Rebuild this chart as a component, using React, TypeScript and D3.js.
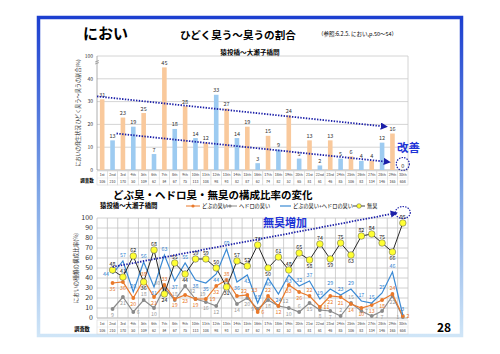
import React from "react";
import * as d3 from "d3";

const surveys = [
  "1st", "2nd", "3rd", "4th", "5th", "6th", "7th", "8th", "9th", "10th",
  "11th", "12th", "13th", "14th", "15th", "16th", "17th", "18th", "19th", "20th",
  "21st", "22nd", "23rd", "24th", "25th", "26th", "27th", "28th", "29th", "30th",
];
const surveyCounts = [
  106, 210, 170, 50, 109, 62, 84, 67, 75, 113, 108, 98, 93, 82, 87,
  62, 74, 82, 52, 65, 81, 61, 46, 85, 106, 83, 134, 146, 165, 658,
];
// ひどく臭う～臭うの割合 (%)
const badSmellRatio = [
  31, 13, 23, 19, 25, 7, 45, 18, 28, 14, 12, 33, 27, 14, 19,
  3, 15, 9, 24, 5, 13, 2, 13, 5, 6, 4, 4, 12, 16, 0,
];
// 構成比率 (%) – 1st survey has no data
const dobuSmell = [
  null, 35, 36, 20, 38, 21, 33, 19, 23, 19, 19, 32, 38, 22, 23,
  6, 22, 12, 33, 26, 22, 11, 22, 21, 14, 10, 13, 18, 24, 2,
];
const hedoroSmell = [
  null, 9, 21, 6, 18, 10, 30, 18, 32, 19, 16, 12, 31, 14, 20,
  9, 18, 12, 10, 6, 15, 8, 7, 2, 15, 7, 2, 7, 22, 1,
];
const dobuPlusHedoro = [
  null, 44, 57, 26, 56, 31, 63, 37, 55, 38, 35, 44, 69, 36, 43,
  15, 40, 24, 43, 32, 37, 19, 29, 23, 29, 17, 15, 25, 46, 3,
];
const noSmell = [
  null, 48, 41, 62, 36, 68, 24, 55, 44, 59, 59, 50, 31, 57, 52,
  73, 50, 61, 48, 65, 58, 74, 59, 75, 63, 82, 84, 75, 66, 95,
];
const topTicks = [0, 10, 20, 30, 40, 50];
const topTickLabels = ["0", "10", "20", "30", "40", "100"];
const bottomTicks = [0, 10, 20, 30, 40, 50, 60, 70, 80, 90, 100];
// hand-drawn trend arrows (survey, value)
const trendUpper = [["1st", 32.3], ["29th", 19]];
const trendLower = [["2nd", 16], ["29th", 3.5]];
const trendNoSmell = [["2nd", 51], ["29th", 105]];

const JP = "'Noto Sans CJK JP', 'Noto Sans', sans-serif";
const NAVY = "#1b1fa8";
const TEXT_BLUE = "#1f35d6";

function labelAbove(arr, i) {
  const v = arr[i];
  const prev = arr[i - 1] ?? v;
  const next = arr[i + 1] ?? v;
  return v >= (prev + next) / 2;
}

export default function App() {
  const W = 500, H = 354;

  const x = d3.scaleBand().domain(surveys).range([97, 408]);
  const cx = (s) => x(s) + x.bandwidth() / 2;

  const yTop = d3.scaleLinear().domain([0, 50]).range([170, 56]);
  const yBot = d3.scaleLinear().domain([0, 100]).range([318, 218]);

  const lineGen = d3
    .line()
    .defined((d) => d != null)
    .x((d, i) => cx(surveys[i]))
    .y((d) => yBot(d));

  const barW = 4.6;

  const series = [
    { data: noSmell, color: "#111", marker: "yellow", labelColor: "#111" },
    { data: dobuPlusHedoro, color: "#3b8ad4", marker: null, labelColor: "#2f7fcf" },
    { data: dobuSmell, color: "#e9792a", marker: "dot", labelColor: "#e9792a" },
    { data: hedoroSmell, color: "#8a8a8a", marker: "dot", labelColor: "#999" },
  ];

  // place point labels avoiding each other
  const points = [];
  series.forEach((sr) =>
    sr.data.forEach((v, i) => {
      if (v != null) points.push({ x: cx(surveys[i]), y: yBot(v) });
    })
  );
  const placed = [];
  const labels = [];
  const overlaps = (a, b) =>
    a.x0 < b.x1 && a.x1 > b.x0 && a.y0 < b.y1 && a.y1 > b.y0;
  series.forEach((sr, k) => {
    sr.data.forEach((v, i) => {
      if (v == null) return;
      const px = cx(surveys[i]);
      const py = yBot(v);
      const w = String(v).length * 3.1 + 0.4;
      const h = 4.4;
      const above = labelAbove(sr.data, i);
      const up = [px, py - 4];
      const down = [px, py + 7.8];
      const cands = [
        above ? up : down,
        above ? down : up,
        [px + 3.3 + w / 2, py + 2],
        [px - 3.3 - w / 2, py + 2],
        [px + 3.8 + w / 2, py - 3.2],
        [px - 3.8 - w / 2, py - 3.2],
        [px + 3.8 + w / 2, py + 6.8],
        [px - 3.8 - w / 2, py + 6.8],
        [px, py - 8.5],
        [px, py + 12],
      ];
      let best = cands[0];
      let bestScore = Infinity;
      cands.forEach((c, ci) => {
        const box = { x0: c[0] - w / 2, x1: c[0] + w / 2, y0: c[1] - h, y1: c[1] };
        let score = ci * 0.4;
        placed.forEach((b) => {
          if (overlaps(box, b)) score += 12;
        });
        points.forEach((p) => {
          if (p.x === px && p.y === py) return;
          if (p.x > box.x0 - 1.5 && p.x < box.x1 + 1.5 && p.y > box.y0 - 1.5 && p.y < box.y1 + 1.5) score += 3;
        });
        if (box.y1 > 319 || box.y0 < 214) score += 20;
        if (score < bestScore) {
          bestScore = score;
          best = c;
        }
      });
      placed.push({ x0: best[0] - w / 2, x1: best[0] + w / 2, y0: best[1] - h, y1: best[1] });
      labels.push({ key: `${k}-${i}`, x: best[0], y: best[1], text: v, color: sr.labelColor });
    });
  });

  const tableRows = (yy, fs) =>
    surveys.map((s, i) => (
      <g key={s}>
        <rect x={x(s)} y={yy} width={x.bandwidth()} height={14} fill="#fff" stroke="#cfcfcf" strokeWidth={0.5} />
        <line x1={x(s)} x2={x(s) + x.bandwidth()} y1={yy + 7} y2={yy + 7} stroke="#e0e0e0" strokeWidth={0.4} />
        <text x={cx(s)} y={yy + 5} fontSize={fs} textAnchor="middle" fill="#333">{s}</text>
        <text x={cx(s)} y={yy + 12} fontSize={fs} textAnchor="middle" fill="#333">{surveyCounts[i]}</text>
      </g>
    ));

  return (
    <svg width={W} height={H} style={{ display: "block", position: "absolute", left: 0, top: 0 }} fontFamily={JP}>
      <defs>
        <linearGradient id="frame" x1="0" y1="0" x2="0" y2="1">
          <stop offset="0%" stopColor="#1c3fd0" />
          <stop offset="55%" stopColor="#7fa6e6" />
          <stop offset="100%" stopColor="#cfe5f7" />
        </linearGradient>
        <marker id="arrow" viewBox="0 0 10 10" refX="8" refY="5" markerWidth="4" markerHeight="4" orient="auto">
          <path d="M0,0 L10,5 L0,10 z" fill={NAVY} />
        </marker>
      </defs>
      <rect x={0} y={0} width={W} height={H} fill="#fff" />
      <rect x={38.5} y={17.5} width={423} height={318} fill="#fff" stroke="url(#frame)" strokeWidth={3.5} />

      {/* header */}
      <text x={83} y={39} fontSize={15} fontWeight="bold">におい</text>
      <text x={180} y={39} fontSize={10.6} fontWeight="bold">ひどく臭う～臭うの割合</text>
      <text x={318} y={36} fontSize={5.5}>（参照:6.2.5. におい,p.50～54）</text>
      <text x={250} y={55} fontSize={6.6} fontWeight="bold" textAnchor="middle">猿投橋～大瀬子橋間</text>

      {/* top chart */}
      <g>
        {topTicks.map((t, i) => (
          <g key={t}>
            <line x1={97} x2={408} y1={yTop(t)} y2={yTop(t)} stroke={t === 0 ? "#999" : "#c9c9c9"} strokeWidth={0.8} />
            <text x={93} y={yTop(t) + 1.8} fontSize={5} textAnchor="end" fill="#333">{topTickLabels[i]}</text>
          </g>
        ))}
        <line x1={97} x2={97} y1={56} y2={170} stroke="#999" strokeWidth={0.8} />
        <line x1={408} x2={408} y1={56} y2={170} stroke="#c9c9c9" strokeWidth={0.8} />
        <line x1={95} x2={99} y1={62} y2={60.5} stroke="#777" strokeWidth={0.6} />
        <line x1={95} x2={99} y1={64} y2={62.5} stroke="#777" strokeWidth={0.6} />
        <text transform="translate(80,113) rotate(-90)" fontSize={5.2} textAnchor="middle" fill="#333">
          においの発生状況 ひどく臭う～臭うの割合(%)
        </text>
        {badSmellRatio.map((v, i) => (
          <g key={i}>
            <rect
              x={cx(surveys[i]) - barW / 2}
              y={yTop(v)}
              width={barW}
              height={yTop(0) - yTop(v)}
              fill={i % 2 === 0 ? "#f9c99c" : "#9dcbf1"}
            />
            <text x={cx(surveys[i])} y={yTop(v) - 2.5} fontSize={5.5} textAnchor="middle" fill="#333">{v}</text>
          </g>
        ))}
        {[trendUpper, trendLower].map((tr, k) => (
          <line
            key={k}
            x1={k === 0 ? x(tr[0][0]) : cx(tr[0][0]) + 4}
            y1={yTop(tr[0][1])}
            x2={cx(tr[1][0]) - 6 + k * 3}
            y2={yTop(tr[1][1])}
            stroke={NAVY}
            strokeWidth={1.8}
            strokeDasharray="1.4 1.4"
            markerEnd="url(#arrow)"
          />
        ))}
        <circle cx={cx("30th")} cy={yTop(0) - 6} r={6.5} fill="none" stroke={NAVY} strokeWidth={1.2} strokeDasharray="1.4 1.2" />
        <text x={397} y={152} fontSize={11.5} fontWeight="bold" fill={TEXT_BLUE}>改善</text>
        {tableRows(171, 3.6)}
        <text x={87} y={182} fontSize={4.5} fontWeight="bold" textAnchor="middle">調査数</text>
      </g>

      {/* bottom chart */}
      <text x={113} y={199} fontSize={10.5} fontWeight="bold">どぶ臭・ヘドロ臭・無臭の構成比率の変化</text>
      <text x={100} y={208} fontSize={6.4} fontWeight="bold">猿投橋～大瀬子橋間</text>
      <g fontSize={5.2}>
        <line x1={186} x2={200} y1={206} y2={206} stroke="#e9792a" strokeWidth={1} />
        <circle cx={193} cy={206} r={1.6} fill="#e9792a" />
        <text x={202} y={208}>どぶの臭い</text>
        <line x1={223} x2={237} y1={206} y2={206} stroke="#8a8a8a" strokeWidth={1} />
        <circle cx={230} cy={206} r={1.6} fill="#8a8a8a" />
        <text x={239} y={208}>ヘドロの臭い</text>
        <line x1={280} x2={291} y1={206} y2={206} stroke="#3b8ad4" strokeWidth={1.2} />
        <text x={293} y={208}>どぶの臭い+ヘドロの臭い</text>
        <line x1={353} x2={365} y1={206} y2={206} stroke="#111" strokeWidth={0.8} />
        <circle cx={359} cy={206} r={2.3} fill="#ffff33" stroke="#555" strokeWidth={0.5} />
        <text x={367} y={208}>無臭</text>
      </g>
      <g>
        {bottomTicks.map((t) => (
          <g key={t}>
            <line x1={97} x2={408} y1={yBot(t)} y2={yBot(t)} stroke={t === 0 ? "#999" : "#c4c4c4"} strokeWidth={0.8} />
            <text x={93} y={yBot(t) + 2.4} fontSize={7} textAnchor="end" fill="#333">{t}</text>
          </g>
        ))}
        {surveys.map((s) => (
          <line key={s} x1={x(s)} x2={x(s)} y1={218} y2={318} stroke="#c4c4c4" strokeWidth={0.8} />
        ))}
        <line x1={408} x2={408} y1={218} y2={318} stroke="#c4c4c4" strokeWidth={0.8} />
        <text transform="translate(78,268) rotate(-90)" fontSize={5.6} textAnchor="middle" fill="#333">
          においの種類の構成比率(%)
        </text>
        {series.slice().reverse().map((sr, k) => (
          <g key={k}>
            <path d={lineGen(sr.data)} fill="none" stroke={sr.color} strokeWidth={sr.marker === "yellow" ? 0.9 : 1.2} />
            {sr.data.map((v, i) =>
              v == null ? null : (
                <g key={i}>
                  {sr.marker === "dot" && <circle cx={cx(surveys[i])} cy={yBot(v)} r={1.9} fill={sr.color} />}
                  {sr.marker === "yellow" && (
                    <circle cx={cx(surveys[i])} cy={yBot(v)} r={3.3} fill="#ffff33" stroke="#555" strokeWidth={0.5} />
                  )}
                </g>
              )
            )}
          </g>
        ))}
        {labels.map((l) => (
          <text key={l.key} x={l.x} y={l.y} fontSize={5.3} textAnchor="middle" fill={l.color}>{l.text}</text>
        ))}
        <line
          x1={cx(trendNoSmell[0][0])}
          y1={yBot(trendNoSmell[0][1])}
          x2={cx(trendNoSmell[1][0]) + 4}
          y2={yBot(trendNoSmell[1][1])}
          stroke={NAVY}
          strokeWidth={1.8}
          strokeDasharray="1.4 1.4"
          markerEnd="url(#arrow)"
        />
        <ellipse cx={cx("30th")} cy={yBot(105.5)} rx={7.5} ry={6} fill="none" stroke={NAVY} strokeWidth={1.2} strokeDasharray="1.4 1.2" />
        <text x={263} y={227} fontSize={11} fontWeight="bold" fill={TEXT_BLUE}>無臭増加</text>
        {tableRows(320, 3.6)}
        <text x={82} y={331} fontSize={5.2} fontWeight="bold" textAnchor="middle">調査数</text>
      </g>

      <text x={437} y={332} fontSize={12} fontWeight="bold">28</text>
    </svg>
  );
}
